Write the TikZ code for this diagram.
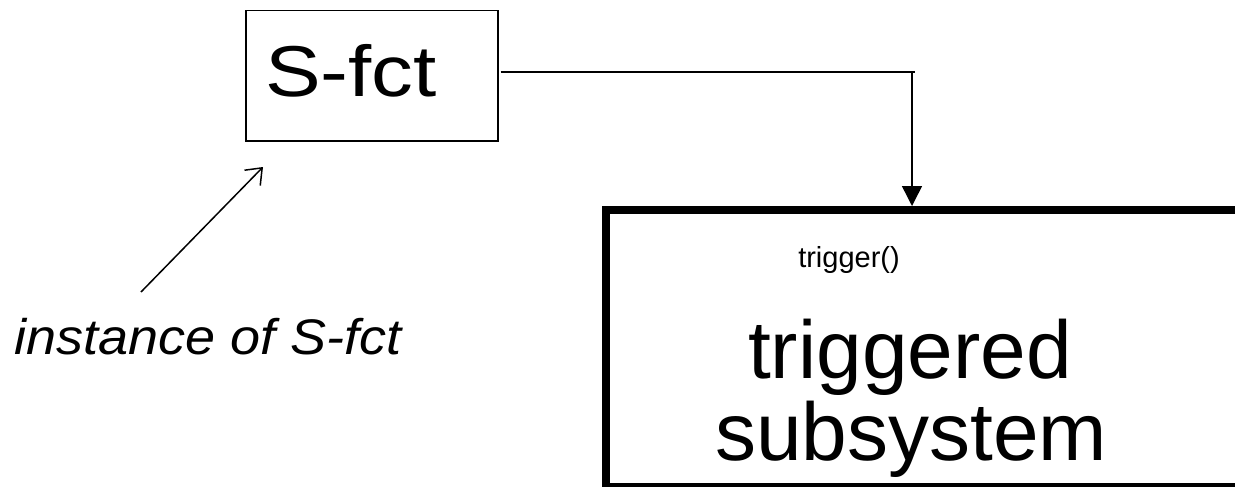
\documentclass[tikz,border=0pt]{standalone}
\usepackage{fontspec}
\setmainfont{Liberation Sans}
\newfontfamily\wideS[FakeStretch=1.16]{Liberation Sans}
\newfontfamily\wideI[FakeStretch=1.08]{Liberation Sans Italic}
\usetikzlibrary{arrows.meta}
\begin{document}
\begin{tikzpicture}[x=1pt,y=-1pt,
  thinline/.style={line width=1.5pt},
  boxA/.style={draw,thinline,inner sep=0pt,anchor=north west},
  boxB/.style={draw,line width=7.5pt,inner sep=0pt,anchor=north west},
  txt/.style={inner sep=0pt,anchor=base}]
\useasboundingbox (0,0) rectangle (1235,487);
\begin{scope}
\clip (0,0) rectangle (1235,487);
\node[boxA,minimum width=252pt,minimum height=130pt] (sfct) at (245,10) {};
\node[boxB,minimum width=700pt,minimum height=277pt] (tsub) at (602,206) {};
\end{scope}
\node[txt] (sfcttext) at (351,96) {\wideS\fontsize{72}{76}\selectfont S-fct};
\node[txt] (trig) at (849,267) {\fontsize{29}{32}\selectfont trigger()};
\node[txt] (tl1) at (910,378) {\fontsize{82}{86}\selectfont triggered};
\node[txt] (tl2) at (911,460) {\fontsize{82}{86}\selectfont subsystem};
\node[txt] (inst) at (208,354) {\wideI\fontsize{50}{54}\selectfont instance of S-fct};
\coordinate (turn) at (912,72);
\coordinate (tend) at (915,72);
\coordinate (a1) at (141,292);
\coordinate (a2) at (263,167);
\draw[thinline] ([xshift=2pt]sfct.east |- turn) -- (tend);
\draw[thinline,-{Triangle[length=20pt,width=20pt]}] (turn) -- (turn |- tsub.north);
\draw[thinline,-{Straight Barb[length=14pt,width=22pt,line width=1.5pt]}] (a1) -- (a2);
\end{tikzpicture}
\end{document}
